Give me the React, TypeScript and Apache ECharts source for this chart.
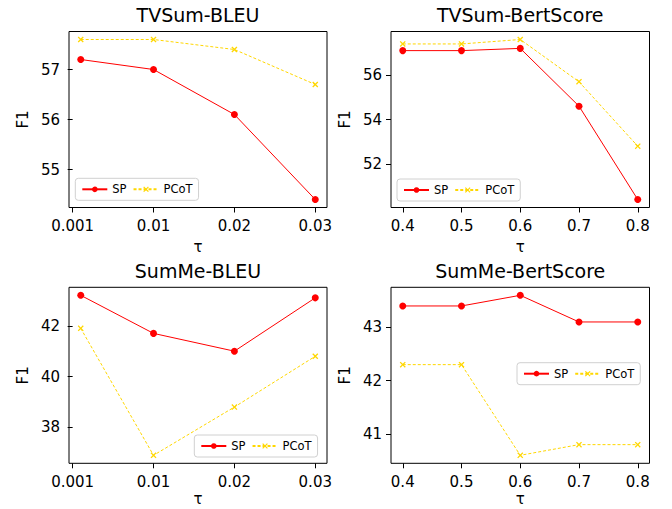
import React, { useEffect, useRef } from "react";
import * as echarts from "echarts";

const tauBleu = [0.001, 0.01, 0.02, 0.03];
const bleuTickValues = [0, 0.01, 0.02, 0.03];
const bleuTickLabels = ["0.001", "0.01", "0.02", "0.03"];
const tauBert = [0.4, 0.5, 0.6, 0.7, 0.8];
const bertTickValues = [0.4, 0.5, 0.6, 0.7, 0.8];
const bertTickLabels = ["0.4", "0.5", "0.6", "0.7", "0.8"];

const tvsumBleuSP = [57.2, 57.0, 56.1, 54.4];
const tvsumBleuPCoT = [57.6, 57.6, 57.4, 56.7];
const tvsumBertSP = [57.1, 57.1, 57.2, 54.6, 50.4];
const tvsumBertPCoT = [57.4, 57.4, 57.6, 55.7, 52.8];
const summeBleuSP = [43.2, 41.7, 41.0, 43.1];
const summeBleuPCoT = [41.9, 36.9, 38.8, 40.8];
const summeBertSP = [43.4, 43.4, 43.6, 43.1, 43.1];
const summeBertPCoT = [42.3, 42.3, 40.6, 40.8, 40.8];

const yTicksTL = [55, 56, 57];
const yTicksTR = [52, 54, 56];
const yTicksBL = [38, 40, 42];
const yTicksBR = [41, 42, 43];

const titles = ["TVSum-BLEU", "TVSum-BertScore", "SumMe-BLEU", "SumMe-BertScore"];

const FONT = "'DejaVu Sans', sans-serif";
const X_MARK =
  "path://M1.5,0 L5,3.5 L8.5,0 L10,1.5 L6.5,5 L10,8.5 L8.5,10 L5,6.5 L1.5,10 L0,8.5 L3.5,5 L0,1.5 Z";

function pad(vals: number[]) {
  const mn = Math.min(...vals);
  const mx = Math.max(...vals);
  const m = (mx - mn) * 0.05;
  return [mn - m, mx + m];
}

export default function App() {
  const ref = useRef<HTMLDivElement>(null);
  useEffect(() => {
    if (!ref.current) return;
    const chart = echarts.init(ref.current, null, { renderer: "svg" });

    const grids = [
      { left: 69, top: 31.5, width: 258, height: 176 },
      { left: 391, top: 31.5, width: 258.5, height: 176 },
      { left: 69, top: 287.3, width: 258, height: 176 },
      { left: 391, top: 287.3, width: 258.5, height: 176 },
    ];
    const panels = [
      { x: tauBleu, ticks: bleuTickValues, labels: bleuTickLabels, sp: tvsumBleuSP, pc: tvsumBleuPCoT, yt: yTicksTL },
      { x: tauBert, ticks: bertTickValues, labels: bertTickLabels, sp: tvsumBertSP, pc: tvsumBertPCoT, yt: yTicksTR },
      { x: tauBleu, ticks: bleuTickValues, labels: bleuTickLabels, sp: summeBleuSP, pc: summeBleuPCoT, yt: yTicksBL },
      { x: tauBert, ticks: bertTickValues, labels: bertTickLabels, sp: summeBertSP, pc: summeBertPCoT, yt: yTicksBR },
    ];
    const legendPos = [
      { left: 75.3, top: 178.3 },
      { left: 397, top: 179 },
      { left: 194.3, top: 435 },
      { left: 517, top: 362.7 },
    ];

    const xAxis: any[] = [];
    const yAxis: any[] = [];
    const series: any[] = [];
    const legend: any[] = [];
    const graphic: any[] = [];

    panels.forEach((p, i) => {
      const [xmin, xmax] = pad(p.x);
      const [ymin, ymax] = pad([...p.sp, ...p.pc]);
      const g = grids[i];
      const cx = g.left + g.width / 2;
      xAxis.push({
        type: "value",
        gridIndex: i,
        min: xmin,
        max: xmax,
        axisLine: { show: false },
        splitLine: { show: false },
        axisTick: {
          show: true,
          length: 5,
          customValues: p.ticks,
          lineStyle: { color: "#000", width: 1 },
        },
        axisLabel: {
          customValues: p.ticks,
          margin: 11,
          color: "#000",
          fontFamily: FONT,
          fontSize: 15,
          formatter: (v: number) => {
            const k = p.ticks.findIndex((t) => Math.abs(t - v) < 1e-9);
            return k >= 0 ? p.labels[k] : "";
          },
        },
      });
      yAxis.push({
        type: "value",
        gridIndex: i,
        min: ymin,
        max: ymax,
        axisLine: { show: false },
        splitLine: { show: false },
        axisTick: {
          show: true,
          length: 5,
          customValues: p.yt,
          lineStyle: { color: "#000", width: 1 },
        },
        axisLabel: {
          customValues: p.yt,
          margin: 9,
          color: "#000",
          fontFamily: FONT,
          fontSize: 15,
          formatter: (v: number) => String(Math.round(v)),
        },
      });
      series.push({
        name: "SP",
        type: "line",
        xAxisIndex: i,
        yAxisIndex: i,
        data: p.x.map((x, k) => [x, p.sp[k]]),
        symbol: "circle",
        symbolSize: 7,
        itemStyle: { color: "#ff0000" },
        lineStyle: { color: "#ff0000", width: 1 },
      });
      series.push({
        name: "PCoT",
        type: "line",
        xAxisIndex: i,
        yAxisIndex: i,
        data: p.x.map((x, k) => [x, p.pc[k]]),
        symbol: X_MARK,
        symbolSize: 6,
        itemStyle: { color: "#ffd700" },
        lineStyle: { color: "#ffd700", width: 1, type: [3, 2] },
      });
      legend.push({
        data: ["SP", "PCoT"],
        left: legendPos[i].left,
        top: legendPos[i].top,
        orient: "horizontal",
        padding: [5, 6],
        itemGap: 6,
        itemWidth: 25,
        itemHeight: 7,
        borderColor: "#d0d0d0",
        borderWidth: 1,
        borderRadius: 3,
        backgroundColor: "rgba(255,255,255,0.8)",
        textStyle: { fontFamily: FONT, fontSize: 11.5, color: "#000" },
        selectedMode: false,
      });
      graphic.push({
        type: "text",
        x: cx,
        y: i < 2 ? 15 : 271,
        style: {
          text: titles[i],
          fontFamily: FONT,
          fontSize: 19,
          fontWeight: "normal",
          fill: "#000",
          align: "center",
          verticalAlign: "middle",
        },
      });
      graphic.push({
        type: "text",
        x: g.left - 46,
        y: g.top + g.height / 2,
        rotation: Math.PI / 2,
        style: {
          text: "F1",
          fontFamily: FONT,
          fontSize: 15,
          fill: "#000",
          align: "center",
          verticalAlign: "middle",
        },
      });
      graphic.push({
        type: "text",
        x: cx,
        y: i < 2 ? 247 : 499,
        style: {
          text: "τ",
          fontFamily: FONT,
          fontSize: 15,
          fill: "#000",
          align: "center",
          verticalAlign: "middle",
        },
      });
    });

    const grid = grids.map((g) => ({
      ...g,
      show: true,
      borderColor: "#000",
      borderWidth: 1,
      backgroundColor: "transparent",
    }));

    chart.setOption({
      animation: false,
      backgroundColor: "#fff",
      grid,
      xAxis,
      yAxis,
      series,
      legend,
      graphic,
    });
    return () => chart.dispose();
  }, []);
  return (
    <div
      ref={ref}
      style={{ position: "fixed", left: 0, top: 0, width: 672, height: 509 }}
    />
  );
}
